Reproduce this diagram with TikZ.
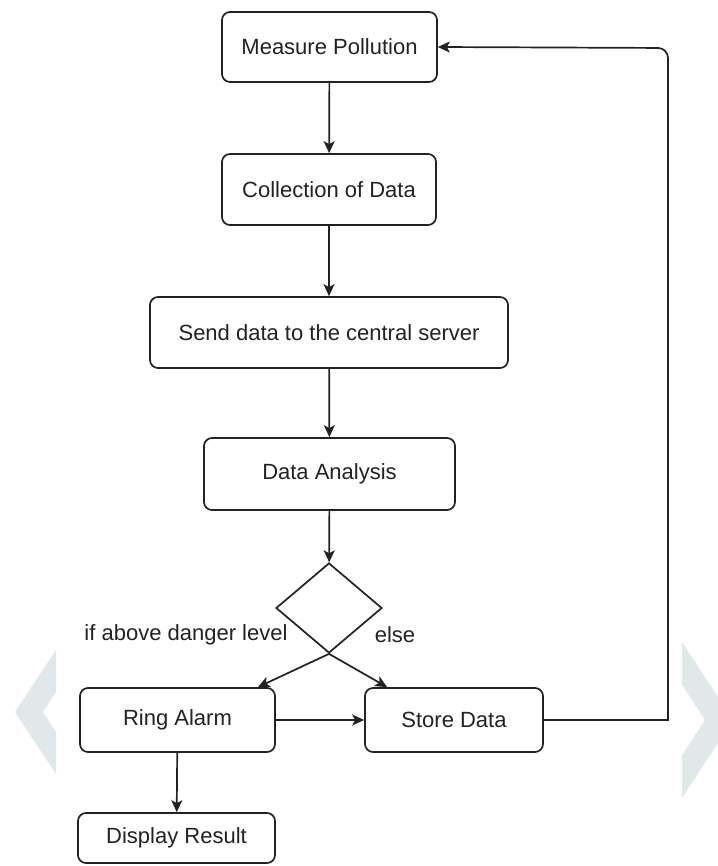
\documentclass[tikz,border=0pt]{standalone}
\usepackage{fontspec}
\setmainfont{Liberation Sans}
\usetikzlibrary{arrows.meta,shapes.geometric,calc}
\definecolor{ink}{HTML}{222222}
\definecolor{wm}{HTML}{E2E8EA}
\begin{document}
\begin{tikzpicture}[x=1pt,y=-1pt,
  box/.style={draw=ink,line width=1.7pt,rounded corners=8pt,fill=white,inner sep=0pt,
    align=center,text=ink,font=\fontsize{22}{26}\selectfont},
  arr/.style={draw=ink,line width=1.7pt,-{Stealth[length=12pt,width=11pt,inset=3pt]}},
  lbl/.style={fill=white,inner sep=2pt,text=ink,font=\fontsize{22}{26}\selectfont},
  dec/.style={draw=ink,line width=1.7pt,fill=white,shape=diamond,inner sep=0pt}]
\useasboundingbox (0,0) rectangle (717,866);
% watermark chevrons
\fill[wm] (56,650) -- (15,712) -- (56,774) -- (56,732) -- (43,712) -- (56,692) -- cycle;
\fill[wm] (682,642) -- (733,720) -- (682,798) -- (682,755) -- (705,720) -- (682,685) -- cycle;
% nodes
\node[box,minimum width=215pt,minimum height=70pt] (measure) at (329.5,47) {Measure Pollution};
\node[box,minimum width=214pt,minimum height=71pt] (collect) at (329,189.5) {Collection of Data};
\node[box,minimum width=358pt,minimum height=71pt] (send) at (329,332.5) {Send data to the central server};
\node[box,minimum width=251pt,minimum height=72pt] (analysis) at (329.5,474) {Data Analysis};
\node[dec,minimum width=106pt,minimum height=90pt] (dec) at (329,608) {};
\node[box,minimum width=195pt,minimum height=64pt] (ring) at (177.5,720) {Ring Alarm};
\node[box,minimum width=178pt,minimum height=64pt] (store) at (454,720) {Store Data};
\node[box,minimum width=197pt,minimum height=50pt] (display) at (176.5,838) {Display Result};
% labels
\node[lbl] (ifabove) at (186,635) {if above danger level};
\node[lbl] (else) at (395,635) {else};
% connectors
\draw[arr] (measure) -- (collect);
\draw[arr] (collect) -- (send);
\draw[arr] (send) -- (analysis);
\draw[arr] (analysis) -- (dec);
\draw[arr] (dec.south) -- ([xshift=-18pt]ring.north east);
\draw[arr] (dec.south) -- ([xshift=23pt]store.north west);
\draw[arr] (ring) -- (store);
\draw[arr] (ring) -- (display);
\draw[arr] (store.east) -- (668,720) [rounded corners=10pt] -- (668,48) -- (measure.east);
\end{tikzpicture}
\end{document}
